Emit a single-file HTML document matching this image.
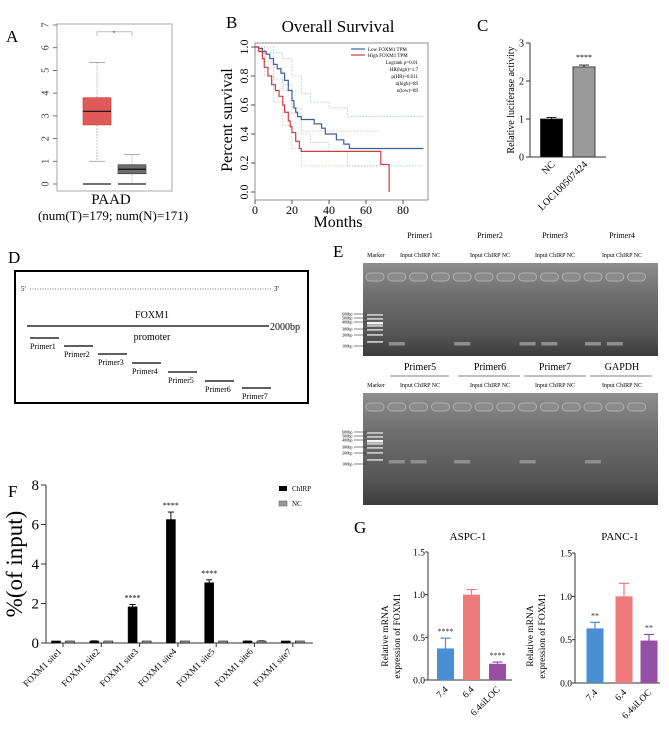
<!DOCTYPE html>
<html><head><meta charset="utf-8"><style>
html,body{margin:0;padding:0;background:#fff}
svg{display:block;font-family:"Liberation Serif",serif}
</style></head><body>
<svg id="fig" width="669" height="730" viewBox="0 0 669 730" xmlns="http://www.w3.org/2000/svg">
<defs>
<linearGradient id="gelg" x1="0" y1="0" x2="0" y2="1">
<stop offset="0" stop-color="#8e8e8e"/><stop offset="0.35" stop-color="#6e6e6e"/><stop offset="0.75" stop-color="#575757"/><stop offset="1" stop-color="#3c3c3c"/>
</linearGradient>
</defs>
<text x="6" y="42" font-size="17">A</text>
<text x="226" y="28" font-size="17">B</text>
<text x="477" y="31" font-size="17">C</text>
<text x="8" y="263" font-size="17">D</text>
<text x="333" y="257" font-size="17">E</text>
<text x="8" y="497" font-size="17">F</text>
<text x="354" y="533" font-size="17">G</text>

<g id="panelA"></g>
<g id="panelB"></g>
<g id="panelC"></g>

<g font-size="8">
<rect x="15" y="271" width="293" height="132" fill="none" stroke="#000" stroke-width="2"/>
<text x="21" y="291" font-size="7">5'</text>
<line x1="30" y1="289" x2="272" y2="289" stroke="#444" stroke-width="0.8" stroke-dasharray="1,1.5"/>
<text x="274" y="291" font-size="7">3'</text>
<text x="152" y="318" font-size="10" text-anchor="middle">FOXM1</text>
<line x1="27" y1="326" x2="269" y2="326" stroke="#000" stroke-width="1.3"/>
<text x="270" y="330" font-size="10">2000bp</text>
<text x="152" y="340" font-size="10" text-anchor="middle">promoter</text>
<g id="primersD"></g>
</g>

<g id="panelE"></g>
<g id="panelF"></g>
<g id="panelG"></g>
</svg>
<script>
const NS="http://www.w3.org/2000/svg";
function mk(tag,attrs,parent,txt){const e=document.createElementNS(NS,tag);for(const k in attrs)e.setAttribute(k,attrs[k]);if(txt!==undefined)e.textContent=txt;(parent||document.getElementById('fig')).appendChild(e);return e;}

const aTicks=[0,1,2,3,4,5,6,7];
const tumorBox={q1:2.6,med:3.2,q3:3.8,lo:1.0,hi:5.35};
const normalBox={q1:0.45,med:0.65,q3:0.85,lo:0,hi:1.3};
const bXTicks=[0,20,40,60,80];
const bYTicks=[0.0,0.2,0.4,0.6,0.8,1.0];
const lowT=[0,2,4,6,8,10,12,14,16,18,20,21,22,23,25,32,36,38,44,48,51,91];
const lowS=[1.0,0.99,0.97,0.95,0.92,0.88,0.85,0.82,0.77,0.70,0.63,0.58,0.55,0.52,0.50,0.47,0.44,0.40,0.36,0.33,0.30,0.30];
const highT=[0,2,4,5,7,9,11,13,15,16,18,19,20,22,24,25,67,68,72,72.5];
const highS=[1.0,0.97,0.92,0.86,0.80,0.74,0.70,0.66,0.60,0.55,0.49,0.45,0.41,0.35,0.30,0.28,0.28,0.19,0.19,0.0];
const lowUpT=[0,5,10,15,20,25,30,40,50,60,91];
const lowUpS=[1.0,1.0,0.96,0.92,0.80,0.68,0.62,0.58,0.52,0.52,0.52];
const lowLoT=[0,5,10,15,20,25,30,40,50,60,91];
const lowLoS=[0.98,0.90,0.78,0.70,0.54,0.40,0.34,0.28,0.18,0.18,0.18];
const highUpT=[0,5,10,15,20,25,40,67];
const highUpS=[1.0,0.96,0.86,0.74,0.58,0.42,0.42,0.42];
const highLoT=[0,5,10,15,20,25,40,67];
const highLoS=[0.96,0.80,0.62,0.46,0.30,0.18,0.18,0.18];
const cCats=["NC","LOC100507424"];
const cVals=[1.0,2.37];
const cErr=[0.04,0.05];
const cTicks=[0,1,2,3];
const fCats=["FOXM1 site1","FOXM1 site2","FOXM1 site3","FOXM1 site4","FOXM1 site5","FOXM1 site6","FOXM1 site7"];
const fChirp=[0.05,0.08,1.83,6.25,3.05,0.05,0.05];
const fChirpErr=[0.03,0.03,0.12,0.38,0.15,0.05,0.03];
const fNC=[0.03,0.03,0.03,0.02,0.03,0.07,0.03];
const fNCErr=[0.03,0.02,0.02,0.01,0.02,0.04,0.02];
const fStars=["","","****","****","****","",""];
const fTicks=[0,2,4,6,8];
const gCats=["7.4","6.4","6.4siLOC"];
const gAspc=[0.37,1.0,0.19];
const gAspcErr=[0.12,0.06,0.02];
const gAspcStars=["****","","****"];
const gPanc=[0.63,1.0,0.49];
const gPancErr=[0.07,0.15,0.07];
const gPancStars=["**","","**"];
const gTicks=[0.0,0.5,1.0,1.5];

(function(){
const g=document.getElementById('panelA');
const y=v=>184-(184-25)*v/7;
mk('rect',{x:57,y:24,width:115,height:167,fill:'#fff',stroke:'#aaa','stroke-width':1,},g);
aTicks.forEach(t=>{
 mk('line',{x1:53,x2:57,y1:y(t),y2:y(t),stroke:'#555','stroke-width':0.8,},g);
 mk('text',{x:46,y:y(t),'font-size':10,'text-anchor':'middle',fill:'#333',transform:`rotate(-90 46 ${y(t)})`,'dominant-baseline':'central',},g,String(t));
});
[[tumorBox,97,'#e05a5a','#c03c3c'],[normalBox,132,'#6e6e6e','#333']].forEach(([b,cx,fill,st])=>{
 mk('line',{x1:cx,x2:cx,y1:y(b.hi),y2:y(b.q3),stroke:'#999','stroke-width':0.6,'stroke-dasharray':'2,1',},g);
 mk('line',{x1:cx,x2:cx,y1:y(b.q1),y2:y(b.lo),stroke:'#999','stroke-width':0.6,'stroke-dasharray':'2,1',},g);
 mk('line',{x1:cx-8,x2:cx+8,y1:y(b.hi),y2:y(b.hi),stroke:'#999','stroke-width':0.8,},g);
 if(b.lo>0)mk('line',{x1:cx-8,x2:cx+8,y1:y(b.lo),y2:y(b.lo),stroke:'#999','stroke-width':0.8,},g);
 mk('rect',{x:cx-14,y:y(b.q3),width:28,height:y(b.q1)-y(b.q3),fill:fill,stroke:st,'stroke-width':0.6,},g);
 mk('line',{x1:cx-14,x2:cx+14,y1:y(b.med),y2:y(b.med),stroke:'#111','stroke-width':1.2,},g);
 mk('line',{x1:cx-14,x2:cx+14,y1:y(0),y2:y(0),stroke:'#444','stroke-width':1.5,},g);
});
mk('path',{d:`M97 ${y(6.5)} V${y(6.7)} H132 V${y(6.5)}`,fill:'none',stroke:'#999','stroke-width':0.6,},g);
mk('circle',{cx:114,cy:y(6.7),r:1,fill:'#e04040',},g);
mk('text',{x:111,y:204,'font-size':15,'text-anchor':'middle',},g,'PAAD');
mk('text',{x:113,y:220,'font-size':13,'text-anchor':'middle',},g,'(num(T)=179; num(N)=171)');
})();

(function(){
const g=document.getElementById('panelB');
const x=t=>255+t*(403-255)/80, y=s=>192-s*(192-47);
mk('rect',{x:255,y:43,width:173,height:157,fill:'#fff',stroke:'#777','stroke-width':0.8,},g);
mk('text',{x:338,y:32,'font-size':17,'text-anchor':'middle',},g,'Overall Survival');
bYTicks.forEach(t=>{
 mk('line',{x1:251,x2:255,y1:y(t),y2:y(t),stroke:'#555',},g);
 mk('text',{x:244,y:y(t),'font-size':12,'text-anchor':'middle','dominant-baseline':'central',transform:`rotate(-90 244 ${y(t)})`,},g,t.toFixed(1));
});
bXTicks.forEach(t=>{
 mk('line',{x1:x(t),x2:x(t),y1:200,y2:204,stroke:'#555',},g);
 mk('text',{x:x(t),y:214,'font-size':12,'text-anchor':'middle',},g,String(t));
});
mk('text',{x:338,y:227,'font-size':16,'text-anchor':'middle',},g,'Months');
mk('text',{x:232,y:120,'font-size':16,'text-anchor':'middle',transform:'rotate(-90 232 120)',},g,'Percent survival');
function step(T,S){let d=`M${x(T[0])} ${y(S[0])}`;for(let i=1;i<T.length;i++){d+=` H${x(T[i])} V${y(S[i])}`;}return d;}
[[lowUpT,lowUpS,'#8fa6c8'],[lowLoT,lowLoS,'#8fa6c8'],[highUpT,highUpS,'#e09a9a'],[highLoT,highLoS,'#e09a9a']].forEach(([T,S,c])=>{
 mk('path',{d:step(T,S),fill:'none',stroke:c,'stroke-width':0.6,'stroke-dasharray':'1.5,1.5',},g);
});
mk('path',{d:step(lowT,lowS),fill:'none',stroke:'#3c5fa0','stroke-width':1.2,},g);
mk('path',{d:step(highT,highS),fill:'none',stroke:'#d03c3c','stroke-width':1.2,},g);
mk('line',{x1:351,x2:365,y1:49,y2:49,stroke:'#3c5fa0','stroke-width':1.2,},g);
mk('line',{x1:351,x2:365,y1:55,y2:55,stroke:'#d03c3c','stroke-width':1.2,},g);
mk('text',{x:368,y:51,'font-size':5,},g,'Low FOXM1 TPM');
mk('text',{x:368,y:57,'font-size':5,},g,'High FOXM1 TPM');
['Logrank p=0.01','HR(high)=1.7','p(HR)=0.011','n(high)=89','n(low)=89'].forEach((s,i)=>{
 mk('text',{x:418,y:64+i*7,'font-size':5,'text-anchor':'end',},g,s);
});
})();

(function(){
const g=document.getElementById('panelC');
const y=v=>157-v*(157-43)/3;
const xs=[551.5,584];
mk('line',{x1:530,x2:530,y1:43,y2:157,stroke:'#333',},g);
mk('line',{x1:530,x2:606,y1:157,y2:157,stroke:'#333',},g);
cTicks.forEach(t=>{
 mk('line',{x1:526,x2:530,y1:y(t),y2:y(t),stroke:'#333',},g);
 mk('text',{x:524,y:y(t)+3.5,'font-size':10,'text-anchor':'end',},g,String(t));
});
cVals.forEach((v,i)=>{
 const cx=xs[i];
 mk('line',{x1:cx,x2:cx,y1:y(v),y2:y(v+cErr[i]),stroke:'#222',},g);
 mk('line',{x1:cx-5,x2:cx+5,y1:y(v+cErr[i]),y2:y(v+cErr[i]),stroke:'#222',},g);
 mk('rect',{x:cx-11,y:y(v),width:22,height:y(0)-y(v),fill:i?'#9a9a9a':'#000',stroke:'#222','stroke-width':0.8,},g);
 mk('text',{x:cx+4,y:165,'font-size':10,'text-anchor':'end',transform:`rotate(-45 ${cx+4} 165)`,},g,cCats[i]);
});
mk('text',{x:xs[1],y:y(cVals[1]+cErr[1])-5,'font-size':8,'text-anchor':'middle',},g,'****');
mk('text',{x:514,y:100,'font-size':10,'text-anchor':'middle',transform:'rotate(-90 514 100)',},g,'Relative luciferase activity');
})();

(function(){
const g=document.getElementById('primersD');
const px=[30,64,98,132,168,205,242], py=[338,346,354,363,372,381,388];
px.forEach((x,i)=>{
 mk('line',{x1:x,x2:x+29,y1:py[i],y2:py[i],stroke:'#000','stroke-width':1.3,},g);
 mk('text',{x:x,y:py[i]+11,'font-size':8,},g,'Primer'+(i+1));
});
})();

(function(){
const g=document.getElementById('panelE');
const topNames=['Primer1','Primer2','Primer3','Primer4'], botNames=['Primer5','Primer6','Primer7','GAPDH'];
const cxs=[420,490,555,622], spans=[[390,449],[458,520],[524,586],[590,652]];
function gel(y0,h,names,labY,big,bandsY,bandLanes,suffix){
 names.forEach((n,i)=>{
  mk('text',{x:cxs[i],y:labY,'font-size':big?10:8,'text-anchor':'middle',},g,n);
  if(big)mk('line',{x1:spans[i][0],x2:spans[i][1],y1:labY+6,y2:labY+6,stroke:'#555','stroke-width':0.8,},g);
  mk('text',{x:cxs[i],y:y0-6,'font-size':6,'text-anchor':'middle',},g,'Input ChIRP NC');
 });
 mk('text',{x:376,y:y0-6,'font-size':6,'text-anchor':'middle',},g,'Marker');
 mk('rect',{x:363,y:y0,width:295,height:h,fill:'url(#gelg)',},g);
 for(let i=0;i<13;i++){
  mk('rect',{x:366+i*21.8,y:y0+10,width:18,height:8,rx:4,fill:'#8a8a8a',stroke:'#b0b0b0','stroke-width':1,},g);
 }
 [0,4,8,11,15,20,27].forEach((d,k)=>{
  mk('rect',{x:367,y:bandsY-28+d,width:16,height:k==2?2.5:1.8,fill:k==2?'#f4f4f4':'#c4c4c4',},g);
 });
 bandLanes.forEach(l=>{
  mk('rect',{x:367+l*21.8,y:bandsY,width:16,height:3.5,fill:'#8e8e8e',},g);
 });
 ['600bp','500bp','400bp','300bp','200bp','100bp'].forEach((t,k)=>{
  const yy=bandsY-28+[0,4,8,15,21,32][k];
  mk('text',{x:342,y:yy+1.5,'font-size':4.2,},g,t);
  mk('line',{x1:354,x2:367,y1:yy,y2:yy,stroke:'#333','stroke-width':0.6,},g);
 });
}
gel(263,93,topNames,238,false,342,[1,4,7,8,10,11],'top');
gel(393,112,botNames,370,true,460,[1,2,4,7,10],'bottom');
})();

(function(){
const g=document.getElementById('panelF');
const y=v=>643-v*(643-485)/8;
const gx=i=>63+i*38.3;
mk('line',{x1:46,x2:46,y1:485,y2:643,stroke:'#333',},g);
mk('line',{x1:46,x2:313,y1:643,y2:643,stroke:'#333',},g);
fTicks.forEach(t=>{
 mk('line',{x1:41,x2:46,y1:y(t),y2:y(t),stroke:'#333',},g);
 mk('text',{x:39,y:y(t)+5,'font-size':15,'text-anchor':'end',},g,String(t));
});
mk('text',{x:22,y:564,'font-size':23,'text-anchor':'middle',transform:'rotate(-90 22 564)',},g,'%(of input)');
fCats.forEach((c,i)=>{
 const cx=gx(i);
 [[fChirp[i],fChirpErr[i],-7,'#000'],[fNC[i],fNCErr[i],7,'#9a9a9a']].forEach(([v,e,off,col])=>{
  const bx=cx+off;
  mk('line',{x1:bx,x2:bx,y1:y(v),y2:y(v+e),stroke:'#111',},g);
  mk('line',{x1:bx-3,x2:bx+3,y1:y(v+e),y2:y(v+e),stroke:'#111',},g);
  mk('rect',{x:bx-4.5,y:Math.min(y(v),641),width:9,height:Math.max(y(0)-y(v),2),fill:col,stroke:'#111','stroke-width':0.6,},g);
 });
 mk('line',{x1:cx,x2:cx,y1:643,y2:647,stroke:'#333',},g);
 mk('text',{x:cx-1,y:652,'font-size':9,'text-anchor':'end',transform:`rotate(-45 ${cx-1} 652)`,},g,c);
 if(fStars[i])mk('text',{x:cx-7,y:y(fChirp[i]+fChirpErr[i])-4,'font-size':8,'text-anchor':'middle',},g,fStars[i]);
});
mk('rect',{x:279,y:486,width:8,height:5,fill:'#000',},g);
mk('text',{x:292,y:491,'font-size':7,},g,'ChIRP');
mk('rect',{x:279,y:501,width:8,height:5,fill:'#9a9a9a',stroke:'#555','stroke-width':0.5,},g);
mk('text',{x:292,y:506,'font-size':7,},g,'NC');
})();

(function(){
const g=document.getElementById('panelG');
const colors=['#4a8fd4','#ee7b7b','#9550a6'];
function chart(ax,yTop,y0,xEnd,bxs,vals,errs,stars,title,tcx,ytx,name){
 const y=v=>y0-v*(y0-yTop)/1.5;
 mk('text',{x:tcx,y:540,'font-size':11,'text-anchor':'middle',},g,title);
 mk('line',{x1:ax,x2:ax,y1:yTop,y2:y0,stroke:'#333',},g);
 mk('line',{x1:ax,x2:xEnd,y1:y0,y2:y0,stroke:'#333',},g);
 gTicks.forEach(t=>{
  mk('line',{x1:ax-3,x2:ax,y1:y(t),y2:y(t),stroke:'#333',},g);
  mk('text',{x:ax-3,y:y(t)+3.5,'font-size':9.5,'text-anchor':'end',},g,t.toFixed(1));
 });
 vals.forEach((v,i)=>{
  const cx=bxs[i];
  mk('line',{x1:cx,x2:cx,y1:y(v),y2:y(v+errs[i]),stroke:colors[i],'stroke-width':1.2,},g);
  mk('line',{x1:cx-5,x2:cx+5,y1:y(v+errs[i]),y2:y(v+errs[i]),stroke:colors[i],'stroke-width':1.2,},g);
  mk('rect',{x:cx-8.5,y:y(v),width:17,height:y(0)-y(v),fill:colors[i],},g);
  mk('text',{x:cx+3,y:y0+10,'font-size':9.5,'text-anchor':'end',transform:`rotate(-45 ${cx+3} ${y0+10})`,},g,gCats[i]);
  if(stars[i])mk('text',{x:cx,y:y(v+errs[i])-4,'font-size':8,'text-anchor':'middle',fill:'#333',},g,stars[i]);
 });
 mk('text',{x:ytx,y:636,'font-size':9.5,'text-anchor':'middle',transform:`rotate(-90 ${ytx} 636)`,},g,'Relative mRNA');
 mk('text',{x:ytx+12,y:636,'font-size':9.5,'text-anchor':'middle',transform:`rotate(-90 ${ytx+12} 636)`,},g,'expression of  FOXM1');
}
chart(428,552,680,512,[445.5,471.5,497.5],gAspc,gAspcErr,gAspcStars,'ASPC-1',468,388,'aspc');
chart(575,553,683,660,[595,624,649],gPanc,gPancErr,gPancStars,'PANC-1',620,533,'panc');
})();
</script>
</body></html>
